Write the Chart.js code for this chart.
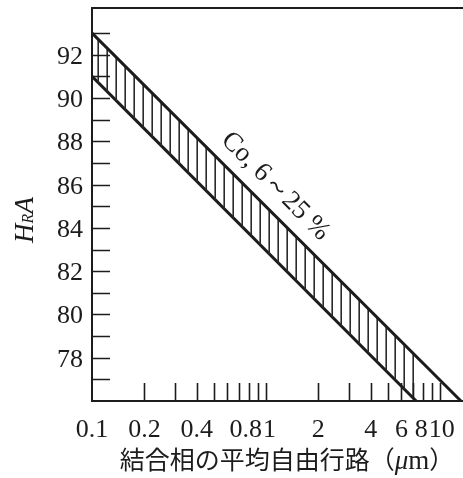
<!DOCTYPE html>
<html>
<head>
<meta charset="utf-8">
<script src="https://cdn.jsdelivr.net/npm/chart.js@4.4.1/dist/chart.umd.min.js"></script>
<style>
    html, body { margin: 0; padding: 0; background: #fff; overflow: hidden; }
    #wrap { position: relative; width: 463px; height: 478px; }
</style>
</head>
<body>
<div id="wrap"><canvas id="hardnessChart"></canvas></div>
<script>
// Band edges: binder mean free path (μm) vs. HRA
const upperPath = [0.1, 13.2];
const upperHRA = [93, 76];
const lowerPath = [0.1, 7.3];
const lowerHRA = [91, 76];

// Axis ticks and labels
const xTickValues = [0.2, 0.3, 0.4, 0.5, 0.6, 0.7, 0.8, 0.9, 1, 2, 3, 4, 5, 6, 7, 8, 9, 10];
const xTickLabels = ["0.1", "0.2", "0.4", "0.8", "1", "2", "4", "6", "8", "10"];
const yTickValues = [77, 78, 79, 80, 81, 82, 83, 84, 85, 86, 87, 88, 89, 90, 91, 92, 93];
const yTickLabels = ["78", "80", "82", "84", "86", "88", "90", "92"];

const bandLabel = "Co, 6～25 %";
const bandLabelAt = 0.93;
const xTitleParts = ["結合相の平均自由行路（", "μ", "m", "）"];

const INK = "#1c1c1c";
const SERIF = "'Liberation Serif', 'DejaVu Serif', serif";
const CJK = "'Noto Sans CJK JP', sans-serif";

// Vertical-stripe pattern for the band
function makeHatch() {
    const c = document.createElement("canvas");
    c.width = 9;
    c.height = 9;
    const g = c.getContext("2d");
    g.fillStyle = "#2a2a2a";
    g.fillRect(7.4, 0, 1.6, 9);
    return g.createPattern(c, "repeat");
}

// Value on the upper edge for a given path length (straight on log x)
function upperAt(v) {
    const t = (Math.log10(v) - Math.log10(upperPath[0])) /
        (Math.log10(upperPath[1]) - Math.log10(upperPath[0]));
    return upperHRA[0] + (upperHRA[1] - upperHRA[0]) * t;
}

// Frame, inward ticks, labels and titles
const axesPlugin = {
    id: "axesFrame",
    afterDatasetsDraw(chart) {
        const ctx = chart.ctx;
        const { left, right, top, bottom } = chart.chartArea;
        const x = chart.scales.x;
        const y = chart.scales.y;

        ctx.save();
        ctx.strokeStyle = INK;
        ctx.fillStyle = INK;

        // frame (no right edge)
        ctx.lineWidth = 2;
        ctx.beginPath();
        ctx.moveTo(right, top);
        ctx.lineTo(left, top);
        ctx.lineTo(left, bottom);
        ctx.lineTo(right, bottom);
        ctx.stroke();

        // tick marks
        ctx.lineWidth = 1.6;
        ctx.beginPath();
        yTickValues.forEach(v => {
            const py = Math.round(y.getPixelForValue(v)) + 0.5;
            ctx.moveTo(left, py);
            ctx.lineTo(left + 18, py);
        });
        xTickValues.forEach(v => {
            const px = Math.round(x.getPixelForValue(v)) + 0.5;
            ctx.moveTo(px, bottom);
            ctx.lineTo(px, bottom - 18);
        });
        ctx.stroke();

        // y labels
        ctx.font = `26px ${SERIF}`;
        ctx.textAlign = "right";
        ctx.textBaseline = "alphabetic";
        yTickLabels.forEach(t => {
            ctx.fillText(t, left - 9, y.getPixelForValue(parseFloat(t)) + 9);
        });

        // x labels, pushed apart where they collide
        ctx.textAlign = "center";
        const items = xTickLabels.map(t => ({
            t,
            c: x.getPixelForValue(parseFloat(t)),
            w: ctx.measureText(t).width
        }));
        for (let i = 1; i < items.length; i++) {
            const a = items[i - 1], b = items[i];
            const gap = (b.c - b.w / 2) - (a.c + a.w / 2);
            if (gap < 1) {
                const s = (1 - gap) / 2;
                a.c -= s;
                b.c += s;
            }
        }
        items.forEach(it => ctx.fillText(it.t, it.c, bottom + 36));

        // y title: H_RA
        ctx.save();
        ctx.translate(33, 220);
        ctx.rotate(-Math.PI / 2);
        ctx.textAlign = "left";
        const big = `italic 27px ${SERIF}`;
        const small = `italic 16px ${SERIF}`;
        ctx.font = big;
        const wH = ctx.measureText("H").width;
        const wA = ctx.measureText("A").width;
        ctx.font = small;
        const wR = ctx.measureText("R").width;
        let u = -(wH + wR + wA) / 2;
        ctx.font = big;
        ctx.fillText("H", u, 0);
        u += wH;
        ctx.font = small;
        ctx.fillText("R", u, 0);
        u += wR;
        ctx.font = big;
        ctx.fillText("A", u, 0);
        ctx.restore();

        // label along the upper edge
        const p0 = { x: x.getPixelForValue(upperPath[0]), y: y.getPixelForValue(upperHRA[0]) };
        const p1 = { x: x.getPixelForValue(upperPath[1]), y: y.getPixelForValue(upperHRA[1]) };
        const ang = Math.atan2(p1.y - p0.y, p1.x - p0.x);
        const ax = x.getPixelForValue(bandLabelAt);
        const ay = y.getPixelForValue(upperAt(bandLabelAt));
        ctx.save();
        ctx.translate(ax + 21 * Math.sin(ang), ay - 21 * Math.cos(ang));
        ctx.rotate(ang);
        ctx.font = `27px ${SERIF}`;
        ctx.textAlign = "center";
        ctx.textBaseline = "middle";
        ctx.fillText(bandLabel, 0, 0);
        ctx.restore();

        // x title, CJK with serif μm
        const fonts = [`25px ${CJK}`, `italic 27px ${SERIF}`, `27px ${SERIF}`, `25px ${CJK}`];
        const widths = xTitleParts.map((p, i) => {
            ctx.font = fonts[i];
            return ctx.measureText(p).width;
        });
        let cx = 287 - widths.reduce((s, w) => s + w, 0) / 2;
        ctx.textAlign = "left";
        ctx.textBaseline = "alphabetic";
        xTitleParts.forEach((p, i) => {
            ctx.font = fonts[i];
            ctx.fillText(p, cx, 469);
            cx += widths[i];
        });

        ctx.restore();
    }
};

const ctx = document.getElementById("hardnessChart").getContext("2d");

new Chart(ctx, {
    type: "line",
    data: {
        datasets: [
            {
                data: upperPath.map((v, i) => ({ x: v, y: upperHRA[i] })),
                borderColor: INK,
                borderWidth: 3,
                pointRadius: 0,
                fill: "+1",
                backgroundColor: makeHatch()
            },
            {
                data: lowerPath.map((v, i) => ({ x: v, y: lowerHRA[i] })),
                borderColor: INK,
                borderWidth: 3,
                pointRadius: 0,
                fill: false
            }
        ]
    },
    options: {
        responsive: true,
        maintainAspectRatio: false,
        animation: false,
        layout: { padding: { left: 92, top: 8, right: 0, bottom: 77 } },
        scales: {
            x: { type: "logarithmic", min: 0.1, max: 13.56, display: false },
            y: { type: "linear", min: 76, max: 94.16, display: false }
        },
        plugins: {
            legend: { display: false },
            tooltip: { enabled: false }
        }
    },
    plugins: [axesPlugin]
});
</script>
</body>
</html>
